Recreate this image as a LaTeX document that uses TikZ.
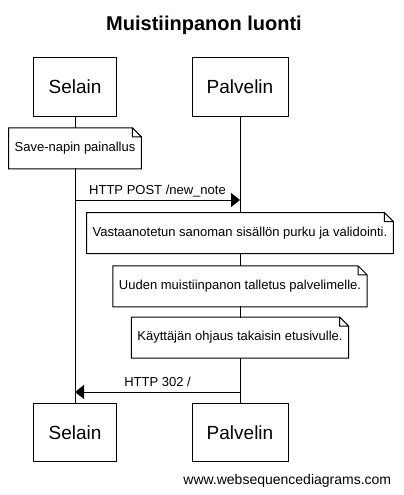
\documentclass[tikz,border=0pt]{standalone}
\usepackage{fontspec}
\setmainfont{Liberation Sans}
\usetikzlibrary{positioning,calc,arrows.meta}

\begin{document}
\begin{tikzpicture}[x=1pt, y=-1pt, line width=1pt,
  actor node/.style={rectangle, draw, fill=white, minimum height=58pt, font=\fontsize{19}{21}\selectfont},
  note node/.style={rectangle, fill=white, minimum height=40pt, inner xsep=5.5pt, font=\fontsize{13}{15}\selectfont},
  msg label/.style={anchor=base, yshift=6pt, font=\fontsize{13}{15}\selectfont},
  msg arrow/.style={-{Triangle[length=9pt, width=14pt]}}]

  \useasboundingbox (0,0) rectangle (404,495);

  \node [font=\bfseries\fontsize{20}{22}\selectfont] (title) at (204,25) {Muistiinpanon luonti};

  % participants
  \node [actor node, minimum width=83pt] (SelainTop) at (75,87) {Selain};
  \node [actor node, minimum width=96pt] (PalvelinTop) at (240,87) {Palvelin};
  \node [actor node, minimum width=83pt] (SelainBottom) at (75,432.5) {Selain};
  \node [actor node, minimum width=96pt] (PalvelinBottom) at (240,432.5) {Palvelin};

  \draw (SelainTop) -- (SelainBottom);
  \draw (PalvelinTop) -- (PalvelinBottom);

  % notes
  \node [note node] (SaveNote) at (75,148.3) {Save-napin painallus};
  \node [note node] (ParseNote) at (240,233) {Vastaanotetun sanoman sisällön purku ja validointi.};
  \node [note node] (StoreNote) at (240,286.3) {Uuden muistiinpanon talletus palvelimelle.};
  \node [note node] (RedirectNote) at (240,337.5) {Käyttäjän ohjaus takaisin etusivulle.};

  \foreach \n in {SaveNote,ParseNote,StoreNote,RedirectNote}
    \draw (\n.north west) -- ([xshift=-9pt]\n.north east) -- ([yshift=-9pt]\n.north east)
      -- (\n.south east) -- (\n.south west) -- cycle
      ([xshift=-9pt]\n.north east) |- ([yshift=-9pt]\n.north east);

  % messages
  \coordinate (PostFrom) at (SelainTop.center |- 0,200);
  \coordinate (PostTo) at (PalvelinTop.center |- 0,200);
  \draw [msg arrow] (PostFrom) -- (PostTo) node [msg label, midway] {HTTP POST /new\_note};

  \coordinate (RedirFrom) at (PalvelinTop.center |- 0,392);
  \coordinate (RedirTo) at (SelainTop.center |- 0,392);
  \draw [msg arrow] (RedirFrom) -- (RedirTo) node [msg label, midway] {HTTP 302 /};

  \node [anchor=base east, font=\fontsize{14}{16}\selectfont] (footer) at (395,484) {www.websequencediagrams.com};
\end{tikzpicture}
\end{document}
